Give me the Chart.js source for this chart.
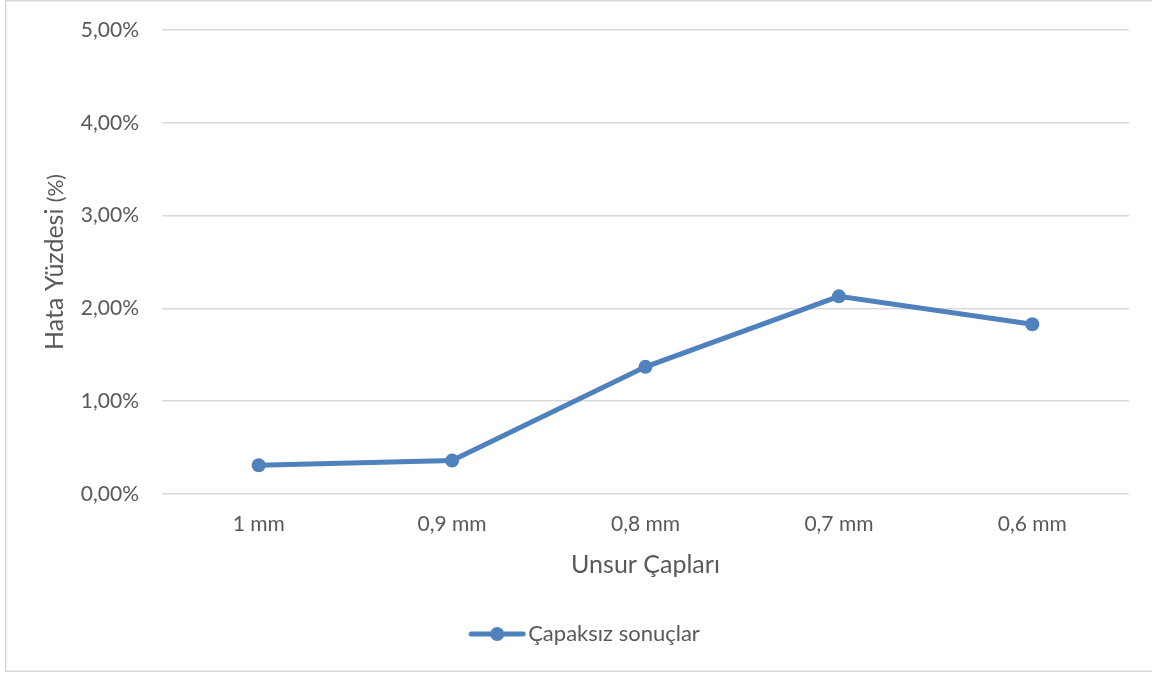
<!DOCTYPE html>
<html>
<head>
<meta charset="utf-8">
<script src="https://cdn.jsdelivr.net/npm/chart.js@4/dist/chart.umd.min.js"></script>
<style>
  html, body { margin: 0; padding: 0; background: #fff; }
  #wrap { position: relative; width: 1152px; height: 673px; }
</style>
</head>
<body>
<div id="wrap"><canvas id="c" width="1152" height="673"></canvas></div>
<script>
// Error percentage by feature diameter
const categories = ['1 mm', '0,9 mm', '0,8 mm', '0,7 mm', '0,6 mm'];
const capaksizValues = [0.0031, 0.0036, 0.0137, 0.0213, 0.0183];
const seriesName = 'Çapaksız sonuçlar';
const xTitle = 'Unsur Çapları';
const yTitleMain = 'Hata Yüzdesi ';
const yTitleUnit = '(%)';

const FONT = 'Lato, "Open Sans", sans-serif';
const TEXT = '#595959';
const LINE = '#4F81BD';
const GRID = '#D9D9D9';

function pct(v) {
  return (v * 100).toFixed(2).replace('.', ',') + '%';
}

// legend symbol: line with a round marker in the middle
const legendIcon = document.createElement('canvas');
legendIcon.width = 60; legendIcon.height = 16;
(function () {
  const g = legendIcon.getContext('2d');
  g.strokeStyle = LINE; g.lineWidth = 5; g.lineCap = 'round';
  g.beginPath(); g.moveTo(4, 8); g.lineTo(56, 8); g.stroke();
  g.fillStyle = LINE;
  g.beginPath(); g.arc(30, 8, 7, 0, Math.PI * 2); g.fill();
})();

// white background, frame, legend placement and rotated y title with a smaller unit part
const decor = {
  id: 'decor',
  afterLayout(chart) {
    const lg = chart.legend;
    if (lg) { lg.left += 24; lg.right += 24; }
  },
  beforeDraw(chart) {
    const ctx = chart.ctx;
    ctx.save();
    ctx.fillStyle = '#fff';
    ctx.fillRect(0, 0, chart.width, chart.height);
    ctx.strokeStyle = GRID;
    ctx.lineWidth = 1.5;
    ctx.beginPath();
    ctx.moveTo(1160, 0.75); ctx.lineTo(5.75, 0.75); ctx.lineTo(5.75, 671.25); ctx.lineTo(1160, 671.25);
    ctx.stroke();
    ctx.restore();
  },
  afterDraw(chart) {
    const ctx = chart.ctx;
    const a = chart.chartArea;
    ctx.save();
    const f1 = '25px Lato, sans-serif', f2 = '21px Lato, sans-serif';
    ctx.font = f1; const w1 = ctx.measureText(yTitleMain).width;
    ctx.font = f2; const w2 = ctx.measureText(yTitleUnit).width;
    const total = w1 + w2;
    ctx.translate(63, (a.top + a.bottom) / 2);
    ctx.rotate(-Math.PI / 2);
    ctx.fillStyle = TEXT;
    ctx.textBaseline = 'alphabetic';
    ctx.textAlign = 'left';
    ctx.font = f1; ctx.fillText(yTitleMain, -total / 2, 0);
    ctx.font = f2; ctx.fillText(yTitleUnit, -total / 2 + w1, 0);
    ctx.restore();
  }
};

new Chart(document.getElementById('c'), {
  type: 'line',
  data: {
    labels: categories,
    datasets: [{
      label: seriesName,
      data: capaksizValues,
      borderColor: LINE,
      backgroundColor: LINE,
      borderWidth: 5,
      pointRadius: 7,
      pointHoverRadius: 7,
      pointBackgroundColor: LINE,
      pointBorderWidth: 0,
      tension: 0,
      pointStyle: 'circle'
    }]
  },
  options: {
    responsive: false,
    animation: false,
    devicePixelRatio: 1,
    layout: { padding: { left: 0, right: 23, top: 30, bottom: 18 } },
    plugins: {
      tooltip: { enabled: false },
      legend: {
        position: 'bottom',
        labels: {
          color: TEXT,
          font: { family: FONT, size: 22 },
          usePointStyle: true,
          pointStyleWidth: 40,
          padding: 10,
          generateLabels(chart) {
            return [{
              text: seriesName,
              fontColor: TEXT,
              pointStyle: legendIcon,
              datasetIndex: 0,
              lineWidth: 0
            }];
          }
        }
      }
    },
    scales: {
      x: {
        offset: true,
        grid: { display: false, drawTicks: false },
        border: { display: false },
        ticks: { color: TEXT, font: { family: FONT, size: 21 }, padding: 18, maxRotation: 0 },
        title: {
          display: true, text: xTitle, color: TEXT,
          font: { family: FONT, size: 25 }, padding: { top: 0, bottom: 33 }
        },
        afterFit(scale) { scale.height = 119; }
      },
      y: {
        min: 0, max: 0.05,
        grid: { color: GRID, lineWidth: 1.5, drawTicks: false },
        border: { display: false },
        ticks: {
          stepSize: 0.01, color: TEXT, padding: 23,
          font: { family: FONT, size: 21 },
          callback: (v) => pct(v)
        },
        afterFit(scale) { scale.width = 162; scale.paddingTop = 0; scale.paddingBottom = 0; }
      }
    }
  },
  plugins: [decor]
});
</script>
</body>
</html>
